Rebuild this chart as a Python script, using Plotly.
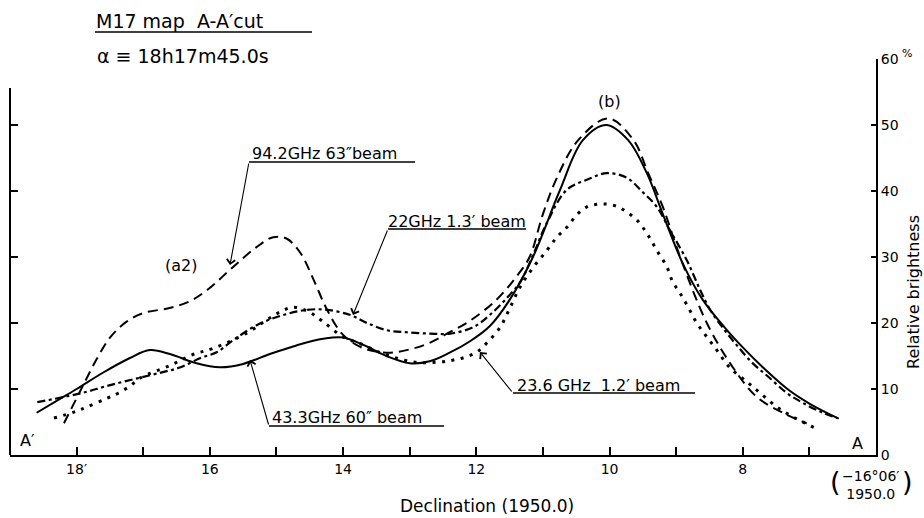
import plotly.graph_objects as go

# ---------------- data (declination offset in arcmin, relative brightness in %) ----------------
dec_433 = [18.6, 18.3, 18.0, 17.6, 17.2, 16.9, 16.6, 16.2, 15.85, 15.5, 15.1, 14.7, 14.3, 14.0,
           13.7, 13.35, 13.0, 12.7, 12.4, 12.1, 11.8, 11.5, 11.15, 10.75, 10.4, 10.05, 9.72,
           9.44, 9.2, 8.9, 8.6, 8.27, 8.0, 7.7, 7.33, 7.0, 6.56]
rb_433 = [6.4, 8.2, 10.0, 12.5, 14.7, 15.9, 15.3, 13.9, 13.3, 13.8, 15.3, 16.6, 17.6, 17.8,
          16.7, 15.0, 13.9, 14.2, 15.5, 17.2, 19.5, 23.5, 30.0, 40.0, 47.7, 50.0, 47.7,
          42.7, 36.5, 29.0, 23.5, 19.3, 16.3, 13.3, 10.0, 7.8, 5.5]

dec_942 = [18.19, 17.94, 17.7, 17.49, 17.25, 17.0, 16.59, 16.3, 16.04, 15.65, 15.3, 15.05,
           14.85, 14.64, 14.44, 14.24, 14.0, 13.7, 13.35, 13.0, 12.7, 12.4, 12.1, 11.7, 11.4,
           11.2, 11.0, 10.79, 10.47, 10.02, 9.64, 9.42, 9.2, 8.94, 8.54, 8.15, 7.79, 7.4, 7.04]
rb_942 = [4.8, 9.8, 14.5, 17.9, 20.2, 21.5, 22.3, 23.3, 25.0, 28.5, 31.5, 33.0,
          32.8, 30.6, 26.5, 22.0, 18.2, 16.2, 15.5, 16.0, 17.0, 18.6, 20.3, 23.5, 27.0,
          30.0, 36.5, 42.0, 47.7, 51.0, 47.7, 42.7, 37.6, 30.0, 20.0, 13.3, 8.8, 6.4, 4.8]

dec_22 = [18.59, 18.14, 17.84, 17.6, 17.3, 16.77, 16.44, 16.14, 15.89, 15.65, 15.29, 14.9,
          14.54, 14.24, 13.89, 13.64, 13.34, 13.04, 12.7, 12.39, 12.04, 11.8, 11.54, 11.34,
          11.14, 10.94, 10.64, 10.34, 10.04, 9.74, 9.5, 9.29, 9.09, 8.84, 8.64, 8.49, 8.31,
          8.12, 7.87, 7.6, 7.34, 7.1, 6.8, 6.58]
rb_22 = [8.0, 8.9, 9.6, 10.3, 11.1, 12.4, 13.3, 14.7, 15.6, 17.4, 19.7, 21.2,
         22.0, 22.0, 21.2, 20.0, 18.9, 18.6, 18.4, 18.4, 19.4, 21.2, 23.8, 26.2,
         30.5, 35.2, 40.2, 41.7, 42.7, 42.0, 39.8, 37.6, 34.0, 29.5, 25.0, 22.0, 19.4,
         17.0, 14.1, 11.7, 9.4, 7.9, 6.4, 5.6]

dec_236 = [18.34, 18.04, 17.84, 17.54, 17.37, 17.19, 17.04, 16.59, 16.26, 15.94, 15.44, 15.14,
           14.94, 14.75, 14.5, 14.3, 14.0, 13.7, 13.44, 12.95, 12.54, 12.34, 12.17, 11.99,
           11.84, 11.64, 11.49, 11.34, 11.14, 10.94, 10.79, 10.64, 10.49, 10.34, 10.17, 10.02,
           9.87, 9.74, 9.59, 9.44, 9.29, 9.14, 9.05, 8.94, 8.82, 8.69, 8.54, 8.39, 8.2, 7.94,
           7.74, 7.49, 7.25, 6.92]
rb_236 = [5.6, 6.5, 7.3, 8.6, 9.4, 10.5, 11.7, 13.6, 15.2, 16.2, 18.5, 20.5,
          21.7, 22.4, 21.6, 20.2, 17.9, 16.7, 15.5, 14.1, 14.1, 14.4, 14.8, 15.6,
          17.0, 19.4, 22.4, 25.5, 28.5, 31.0, 33.0, 34.5, 36.4, 37.6, 38.0, 38.0,
          37.6, 36.8, 35.6, 33.6, 31.0, 28.5, 26.2, 24.5, 22.4, 20.0, 17.9, 15.9, 13.3, 11.1,
          9.4, 7.3, 5.8, 4.1]

x_ticks = [18, 17, 16, 15, 14, 13, 12, 11, 10, 9, 8, 7]
x_ticktext = ["18′", "", "16", "", "14", "", "12", "", "10", "", "8", ""]
y_ticks = [0, 10, 20, 30, 40, 50, 60]
y_left_ticks = [10, 20, 30, 40, 50]

# ---------------- layout helpers ----------------
FONT = "DejaVu Sans"
W, H = 924, 518
L, R, T, B = 10, 48, 59, 63
PW, PH = W - L - R, H - T - B


def px(x):
    return (x - L) / PW


def py(y):
    return (H - B - y) / PH


def txt(x, y, s, size, xanchor="left", yanchor="middle", angle=0):
    return dict(x=px(x), y=py(y), xref="paper", yref="paper", text=s, showarrow=False,
                font=dict(size=size, family=FONT, color="black"), xanchor=xanchor,
                yanchor=yanchor, textangle=angle, borderpad=0)


def arrow(tip, tail):
    return dict(x=px(tip[0]), y=py(tip[1]), xref="paper", yref="paper",
                ax=tail[0] - tip[0], ay=tail[1] - tip[1], axref="pixel", ayref="pixel",
                text="", showarrow=True, arrowhead=4, arrowsize=1.5, arrowwidth=1.1,
                arrowcolor="black", standoff=0)


def hline(x0, x1, y, w=1.3):
    return dict(type="line", xref="paper", yref="paper", x0=px(x0), x1=px(x1),
                y0=py(y), y1=py(y), line=dict(color="black", width=w))


fig = go.Figure()
fig.add_trace(go.Scatter(x=dec_433, y=rb_433, mode="lines",
                         line=dict(color="black", width=2, shape="spline", smoothing=1.0)))
fig.add_trace(go.Scatter(x=dec_942, y=rb_942, mode="lines",
                         line=dict(color="black", width=2, dash="10px,6px", shape="spline",
                                   smoothing=1.0)))
fig.add_trace(go.Scatter(x=dec_22, y=rb_22, mode="lines",
                         line=dict(color="black", width=2.2, dash="8px,3.5px,3px,3.5px",
                                   shape="spline", smoothing=1.0)))
fig.add_trace(go.Scatter(x=dec_236, y=rb_236, mode="lines", yaxis="y2",
                         line=dict(color="black", width=3, dash="3px,6.5px",
                                   shape="spline", smoothing=1.0)))

annotations = [
    txt(95, 21, "M17 map\u00a0\u00a0A-A′cut", 19),
    txt(96, 56, "α ≡ 18h17m45.0s", 19),
    txt(181, 265, "(a2)", 16, xanchor="center"),
    txt(609, 101, "(b)", 16, xanchor="center"),
    txt(251, 153, "94.2GHz\u00a063″beam", 16),
    txt(387, 221, "22GHz 1.3′ beam", 16),
    txt(516, 385, "23.6 GHz\u00a0\u00a01.2′ beam", 16),
    txt(271, 417, "43.3GHz 60″ beam", 16),
    txt(27, 440, "A′", 16, xanchor="center"),
    txt(857, 443, "A", 16, xanchor="center"),
    txt(907, 53, "%", 11, xanchor="center"),
    txt(913, 292, "Relative brightness", 16, xanchor="center", angle=-90),
    txt(487, 506, "Declination (1950.0)", 17, xanchor="center"),
    txt(871, 485, "−16°06′<br>1950.0", 14, xanchor="center"),
    txt(835, 481, "(", 27, xanchor="center"),
    txt(908, 481, ")", 27, xanchor="center"),
    arrow((230, 265), (249, 162)),
    arrow((353, 315), (388, 229)),
    arrow((480, 352), (513, 393)),
    arrow((250, 360), (269, 426)),
]

shapes = [
    hline(95, 312, 32),
    hline(249, 415, 162),
    hline(388, 526, 229),
    hline(513, 695, 393),
    hline(269, 444, 426),
    dict(type="line", xref="paper", yref="y", x0=0, x1=0, y0=0, y1=55.6,
         line=dict(color="black", width=2)),
]

fig.update_layout(
    width=W, height=H,
    margin=dict(l=L, r=R, t=T, b=B, pad=0),
    paper_bgcolor="white", plot_bgcolor="white",
    showlegend=False,
    font=dict(family=FONT, color="black"),
    xaxis=dict(range=[19, 6], tickvals=x_ticks, ticktext=x_ticktext, ticks="inside",
               ticklen=8, tickwidth=1.5, tickcolor="black", showline=True, linewidth=2,
               linecolor="black", showgrid=False, zeroline=False,
               tickfont=dict(size=14, family=FONT, color="black")),
    yaxis=dict(range=[0, 60], side="right", tickvals=y_ticks, ticks="inside", ticklen=5,
               tickwidth=1.5, tickcolor="black", showline=True, linewidth=2,
               linecolor="black", showgrid=False, zeroline=False,
               tickfont=dict(size=14, family=FONT, color="black")),
    yaxis2=dict(range=[0, 60], overlaying="y", side="left", tickvals=y_left_ticks,
                ticks="inside", ticklen=8, tickwidth=1.5, tickcolor="black",
                showticklabels=False, showline=False, showgrid=False, zeroline=False),
    annotations=annotations,
    shapes=shapes,
)

fig.write_html("out.html")
